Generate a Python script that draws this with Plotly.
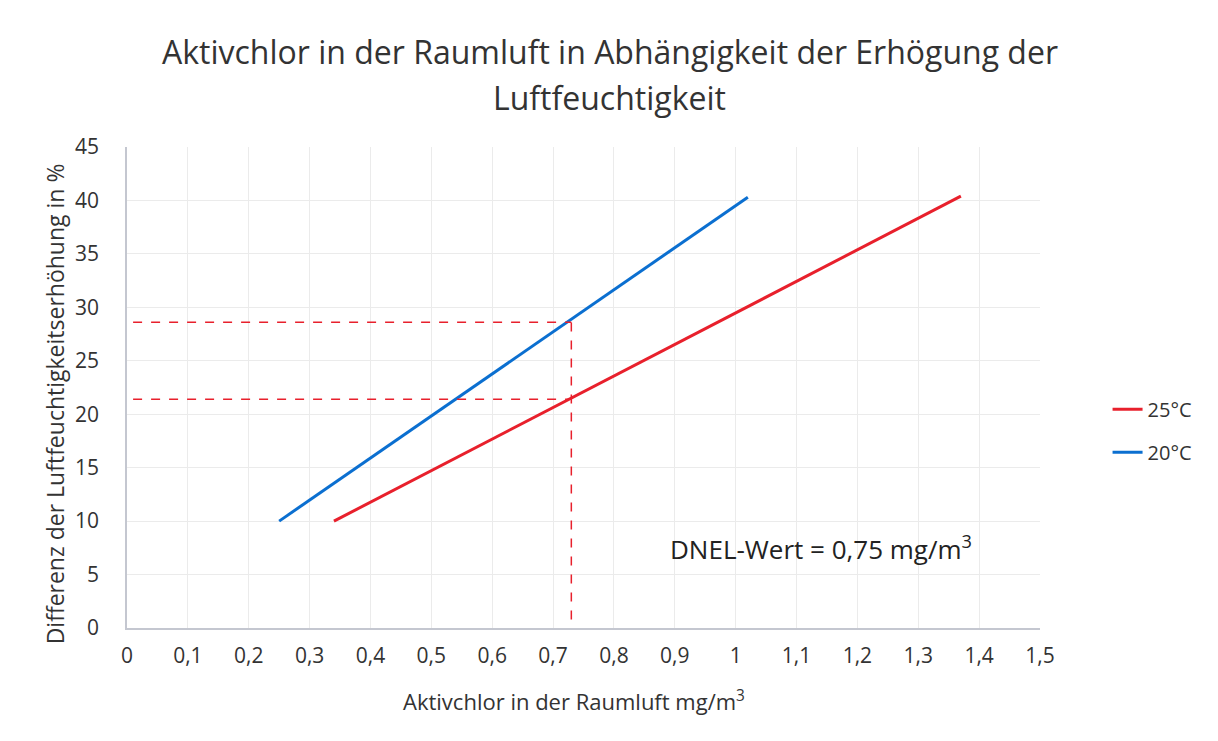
import plotly.graph_objects as go

# Data
x_25 = [0.34, 1.37]
y_25 = [10, 40.4]
x_20 = [0.25, 1.02]
y_20 = [10, 40.3]

dnel_x = 0.73
dnel_y_20 = 28.6
dnel_y_25 = 21.4
ref_line_start = 0.01
ref_line_bottom = 0.8

title_lines = ["Aktivchlor in der Raumluft in Abhängigkeit der Erhögung der", "Luftfeuchtigkeit"]
x_title = "Aktivchlor in der Raumluft mg/m<sup>3</sup>"
y_title = "Differenz der Luftfeuchtigkeitserhöhung in %"
note = "DNEL-Wert = 0,75 mg/m<sup>3</sup>"

red = "#e8202c"
blue = "#0b6fd0"
txt = "#333333"
font = "Open Sans"

fig = go.Figure()
fig.add_trace(go.Scatter(x=x_25, y=y_25, mode="lines", name="25°C", legendgroup="a",
                         line=dict(color=red, width=3)))
fig.add_trace(go.Scatter(x=x_20, y=y_20, mode="lines", name="20°C", legendgroup="b",
                         line=dict(color=blue, width=3)))

# dashed reference lines
dash = dict(color=red, width=1.5, dash="dash")
fig.add_trace(go.Scatter(x=[ref_line_start, dnel_x], y=[dnel_y_20, dnel_y_20], mode="lines",
                         line=dash, showlegend=False, hoverinfo="skip"))
fig.add_trace(go.Scatter(x=[ref_line_start, dnel_x], y=[dnel_y_25, dnel_y_25], mode="lines",
                         line=dash, showlegend=False, hoverinfo="skip"))
fig.add_trace(go.Scatter(x=[dnel_x, dnel_x], y=[ref_line_bottom, dnel_y_20 + 0.3], mode="lines",
                         line=dash, showlegend=False, hoverinfo="skip"))

fig.add_annotation(x=1.14, y=7.5, xref="x", yref="y", showarrow=False,
                   text=note, font=dict(family=font, size=26, color="#222222"))

# title lines
fig.add_annotation(x=0.529, y=1, xref="paper", yref="paper", yanchor="middle", yshift=96,
                   showarrow=False, text=title_lines[0], font=dict(family=font, size=32, color=txt))
fig.add_annotation(x=0.529, y=1, xref="paper", yref="paper", yanchor="middle", yshift=50,
                   showarrow=False, text=title_lines[1], font=dict(family=font, size=32, color=txt))
# axis titles
fig.add_annotation(x=0.49, y=0, xref="paper", yref="paper", yanchor="middle", yshift=-72,
                   showarrow=False, text=x_title, font=dict(family=font, size=22, color=txt))
fig.add_annotation(x=0, y=0.465, xref="paper", yref="paper", xanchor="center", xshift=-72,
                   textangle=-90, showarrow=False, text=y_title,
                   font=dict(family=font, size=23, color=txt))

fig.update_layout(
    width=1218, height=741,
    separators=",.",
    paper_bgcolor="white", plot_bgcolor="white",
    font=dict(family=font, color=txt),
    margin=dict(l=119, r=186, t=139, b=121),
    legend=dict(x=1.074, y=0.41, xanchor="left", yanchor="middle",
                font=dict(family=font, size=20, color=txt),
                bgcolor="rgba(0,0,0,0)", tracegroupgap=14),
    xaxis=dict(range=[0, 1.5], dtick=0.1, tick0=0, showgrid=True, gridcolor="#ebebeb",
               showline=True, linecolor="#c4c7d0", linewidth=1.5, zeroline=False,
               ticks="", ticklabelstandoff=8, tickfont=dict(family=font, size=21, color=txt)),
    yaxis=dict(range=[0, 45], dtick=5, tick0=0, showgrid=True, gridcolor="#ebebeb",
               showline=True, linecolor="#c4c7d0", linewidth=1.5, zeroline=False,
               ticks="", ticklabelstandoff=22, tickfont=dict(family=font, size=21, color=txt)),
)

fig.write_html("out.html")
